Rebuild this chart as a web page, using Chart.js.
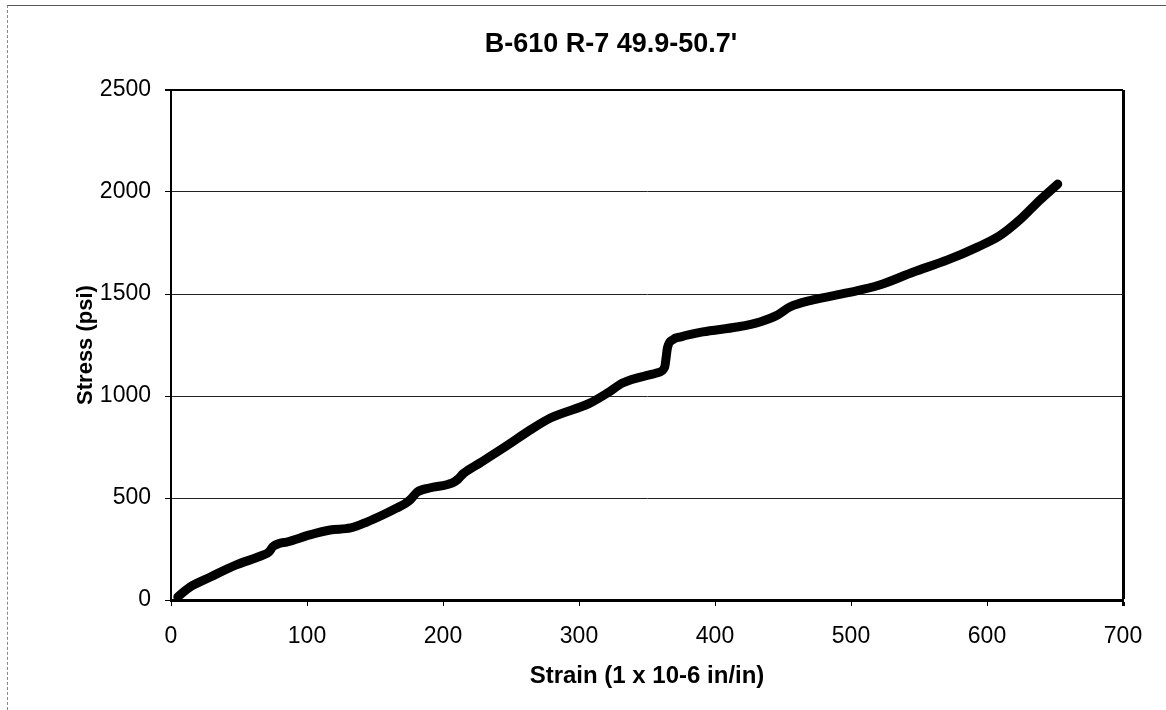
<!DOCTYPE html>
<html>
<head>
<meta charset="utf-8">
<title>B-610 R-7 49.9-50.7'</title>
<script src="https://cdn.jsdelivr.net/npm/chart.js@4"></script>
<style>
    html, body { margin: 0; padding: 0; background: #fff; }
    #wrap { position: relative; width: 1166px; height: 710px; }
    #frame {
        position: absolute; left: 7px; top: 5px; right: 0; bottom: 0;
        border-top: 1px solid #555;
        border-left: 1px dashed #888;
    }
    #stressChart { position: absolute; left: 0; top: 0; }
</style>
</head>
<body>
<div id="wrap">
    <div id="frame"></div>
    <canvas id="stressChart" width="1166" height="710"></canvas>
</div>
<script>
const chartTitle = "B-610 R-7 49.9-50.7'";
const xTitle = "Strain (1 x 10-6 in/in)";
const yTitle = "Stress (psi)";

const strainValues = [5, 14, 29, 48, 68, 72, 75, 80, 85, 102, 117, 132, 144, 156, 166, 172, 176, 181, 190, 207, 211, 215, 227, 242, 251, 262, 279, 308, 321, 332, 357, 363, 364, 365, 369, 375, 391, 416, 433, 446, 455, 472, 497, 521, 546, 571, 593, 609, 624, 639, 652];
const stressValues = [15, 64, 113, 172, 221, 235, 262, 278, 284, 319, 343, 353, 382, 418, 451, 472, 492, 529, 549, 574, 592, 620, 671, 735, 775, 824, 892, 965, 1015, 1064, 1113, 1142, 1185, 1235, 1276, 1290, 1314, 1338, 1363, 1397, 1436, 1471, 1505, 1544, 1608, 1667, 1730, 1784, 1863, 1961, 2039];

const xTicks = [0, 100, 200, 300, 400, 500, 600, 700];
const yTicks = [0, 500, 1000, 1500, 2000, 2500];

const fontFamily = "'Liberation Sans', Arial, sans-serif";

const titlePlugin = {
    id: 'fixedTitle',
    afterDraw(chart) {
        const ctx = chart.ctx;
        ctx.save();
        ctx.font = "bold 27px " + fontFamily;
        ctx.fillStyle = '#000';
        ctx.textAlign = 'center';
        ctx.textBaseline = 'middle';
        ctx.fillText(chartTitle, 611, 45);
        ctx.restore();
    }
};

function drawChart() {
    const ctx = document.getElementById("stressChart").getContext("2d");

    new Chart(ctx, {
        type: 'line',
        data: {
            datasets: [{
                label: 'Stress',
                data: strainValues.map((x, i) => ({ x: x, y: stressValues[i] })),
                borderColor: '#000',
                borderWidth: 9,
                borderCapStyle: 'round',
                borderJoinStyle: 'round',
                pointRadius: 0,
                fill: false,
                cubicInterpolationMode: 'monotone'
            }]
        },
        options: {
            responsive: false,
            animation: false,
            layout: {
                padding: { left: 70, right: 43, top: 90, bottom: 18 }
            },
            scales: {
                x: {
                    type: 'linear',
                    min: 0,
                    max: 700,
                    afterBuildTicks: scale => { scale.ticks = xTicks.map(v => ({ value: v })); },
                    afterFit: scale => { scale.height = 92; },
                    border: { color: '#000', width: 3 },
                    grid: {
                        color: c => (c.tick && c.tick.value === 700) ? '#000' : 'rgba(0,0,0,0)',
                        lineWidth: c => (c.tick && c.tick.value === 700) ? 3 : 1,
                        tickColor: '#000',
                        tickLength: 6,
                        drawTicks: true
                    },
                    ticks: {
                        color: '#000',
                        padding: 17,
                        maxRotation: 0,
                        callback: v => String(v),
                        font: { family: fontFamily, size: 23 }
                    },
                    title: {
                        display: true,
                        text: xTitle,
                        color: '#000',
                        padding: { top: 0, bottom: 1 },
                        font: { family: fontFamily, size: 24, weight: 'bold' }
                    }
                },
                y: {
                    min: 0,
                    max: 2500,
                    afterBuildTicks: scale => { scale.ticks = yTicks.map(v => ({ value: v })); },
                    afterFit: scale => { scale.width = 101; },
                    border: { color: '#000', width: 2 },
                    grid: {
                        color: c => (c.tick && c.tick.value === 2500) ? '#000' : '#222',
                        lineWidth: c => (c.tick && c.tick.value === 2500) ? 2 : 1,
                        tickColor: '#000',
                        tickLength: 6
                    },
                    ticks: {
                        color: '#000',
                        padding: 14,
                        callback: v => String(v),
                        font: { family: fontFamily, size: 23 }
                    },
                    title: {
                        display: true,
                        text: yTitle,
                        color: '#000',
                        padding: { top: 3, bottom: 0 },
                        font: { family: fontFamily, size: 22, weight: 'bold' }
                    }
                }
            },
            plugins: {
                legend: { display: false },
                title: { display: false },
                tooltip: { enabled: false }
            }
        },
        plugins: [titlePlugin]
    });
}

window.onload = function() {
    drawChart();
};
</script>
</body>
</html>
